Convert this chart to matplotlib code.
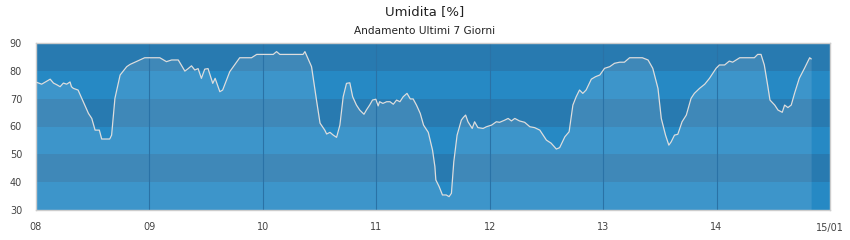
import matplotlib
matplotlib.use("Agg")
import matplotlib.pyplot as plt
import numpy as np

title = "Umidita [%]"
subtitle = "Andamento Ultimi 7 Giorni"
tick_labels = ["08", "09", "10", "11", "12", "13", "14", "15/01"]
y_ticks = [30, 40, 50, 60, 70, 80, 90]

# hours since 08/01 00:00
hours = [0.1, 1.2, 3.0, 3.7, 4.4, 5.1, 5.8, 6.5, 7.2, 7.5, 7.9, 8.9, 10.0, 11.1, 11.8,
         12.5, 13.4, 13.9, 15.6, 16.0, 16.7, 17.8, 19.2, 19.9, 22.0, 23.0, 26.2, 27.6,
         28.7, 30.1, 31.5, 32.2, 32.9, 33.6, 34.3, 35.0, 35.7, 36.4, 37.4, 37.9, 38.9,
         39.5, 41.0, 43.1, 45.6, 46.7, 50.2, 50.9, 51.6, 56.5, 56.9, 58.3, 59.4, 60.1,
         61.1, 61.5,
         62.2, 62.9, 63.6, 64.3, 65.0, 65.7, 66.4, 67.0, 67.8, 68.5, 69.4, 69.9, 70.6,
         71.2, 71.9, 72.4, 72.7, 73.4, 74.2, 74.9, 75.6, 76.3, 77.0, 77.7, 78.5, 79.2,
         79.8, 80.5, 81.3, 82.0, 83.0, 83.9, 84.4, 84.6, 85.3, 86.0, 86.8, 87.4, 87.9,
         88.4, 89.1, 90.0, 90.4, 90.9, 91.4, 92.3, 92.8, 93.5, 94.6, 95.3, 96.4, 97.4,
         98.1, 99.2, 99.9, 100.6, 101.3, 102.3, 103.4, 104.5, 105.5, 106.6, 108.0,
         109.0, 110.1, 110.8, 111.9, 112.8,
         113.6, 114.3, 115.0, 115.7, 116.4, 117.5, 118.4, 119.3, 120.3, 121.4, 122.4,
         123.5, 124.5, 125.6, 128.3, 129.5, 130.5, 131.6, 132.3, 133.2, 133.9, 134.4,
         135.1, 135.8, 136.7, 137.6, 138.6, 139.3, 140.4, 141.5, 142.5, 143.9, 144.6,
         145.7, 146.7, 147.4, 148.9, 152.0, 152.7, 153.4, 154.1, 154.8, 155.3, 156.3,
         157.0, 157.9, 158.4, 159.1, 159.8, 160.5, 161.5, 162.6, 163.7, 164.0]

humidity = [75.9, 75.2, 77.0, 75.6, 75.0, 74.3, 75.6, 75.2, 76.0, 74.3, 73.7, 73.1, 68.9,
            64.7, 62.9, 58.7, 58.7, 55.5, 55.5, 56.9, 70.1, 78.5, 81.5, 82.3, 83.9, 84.7,
            84.7, 83.3, 83.9, 83.9, 79.9, 80.8, 81.8, 80.3, 80.8, 77.3, 80.6, 80.8, 75.5,
            77.3, 72.5, 73.1, 79.7, 84.7, 84.7, 85.9, 85.9, 86.9, 85.9, 85.9, 86.9, 81.5,
            68.9, 61.2, 58.7, 57.3,
            57.9, 56.9, 56.1, 60.5, 70.7, 75.5, 75.7, 70.7, 67.7, 65.9, 64.4, 65.9, 67.7,
            69.5, 69.8, 67.4, 68.9, 68.3, 68.9, 68.9, 68.0, 69.5, 68.9, 70.7, 71.9, 69.9,
            69.9, 67.7, 64.7, 60.5, 57.9, 51.5, 45.6, 40.8, 38.4, 35.4, 35.4, 34.8, 36.0,
            47.3, 56.9, 62.3, 63.2, 64.1, 61.7, 59.3, 61.7, 59.6, 59.3, 59.9, 60.5, 61.7,
            61.5, 62.3, 62.9, 62.0, 62.9, 62.0, 61.5, 59.9, 59.6, 58.7, 55.1,
            54.0, 51.9, 52.4, 56.3, 58.1,
            67.7, 70.7, 73.1, 71.9, 73.1, 77.0, 77.9, 78.5, 80.9, 81.5, 82.7,
            83.1, 83.1, 84.7, 84.7, 83.9, 80.9, 73.7, 62.9, 56.9, 53.3, 54.5,
            56.9, 57.2, 61.7, 64.1, 70.1, 71.9, 73.7, 75.2, 77.3, 80.9, 82.1,
            82.1, 83.5, 83.1, 84.7, 84.7, 85.9, 85.9, 82.1, 74.9, 69.5, 67.7,
            65.9, 65.1, 67.7, 66.8, 67.7, 71.9, 77.3, 80.9, 84.7, 84.3]

fig = plt.figure(figsize=(8.5, 2.4), dpi=100)
ax = fig.add_axes([36/850, 1 - 210/240, (830-36)/850, (210-43)/240])

x_max = 168
band_dark = "#287ab0"
band_light = "#2689c4"
for i, lo in enumerate(range(30, 90, 10)):
    col = band_light if i % 2 == 0 else band_dark
    ax.axhspan(lo, lo + 10, color=col, lw=0, zorder=0)

ax.fill_between(hours, humidity, 30, color="white", alpha=0.11, lw=0, zorder=1)
for t in range(24, x_max, 24):
    ax.axvline(t, color="#2a72a6", lw=0.8, zorder=1.5)
ax.plot(hours, humidity, color="#dddddd", lw=0.9, zorder=3)

ax.set_xlim(0, x_max)
ax.set_ylim(30, 90)
ax.set_xticks(np.arange(0, x_max + 1, 24))
ax.set_xticklabels(tick_labels)
ax.set_yticks(y_ticks)
ax.tick_params(length=0, labelsize=7, colors="#444444")
ax.tick_params(axis="x", pad=9)
ax.tick_params(axis="y", pad=10)
for s in ax.spines.values():
    s.set_color("#cccccc")
    s.set_linewidth(1)

fig.text(0.5, 1 - 12/240, title, ha="center", va="center", fontsize=9.5, color="#222222")
fig.text(0.5, 1 - 31/240, subtitle, ha="center", va="center", fontsize=7.6, color="#222222")

fig.savefig("out.png", dpi=100)
